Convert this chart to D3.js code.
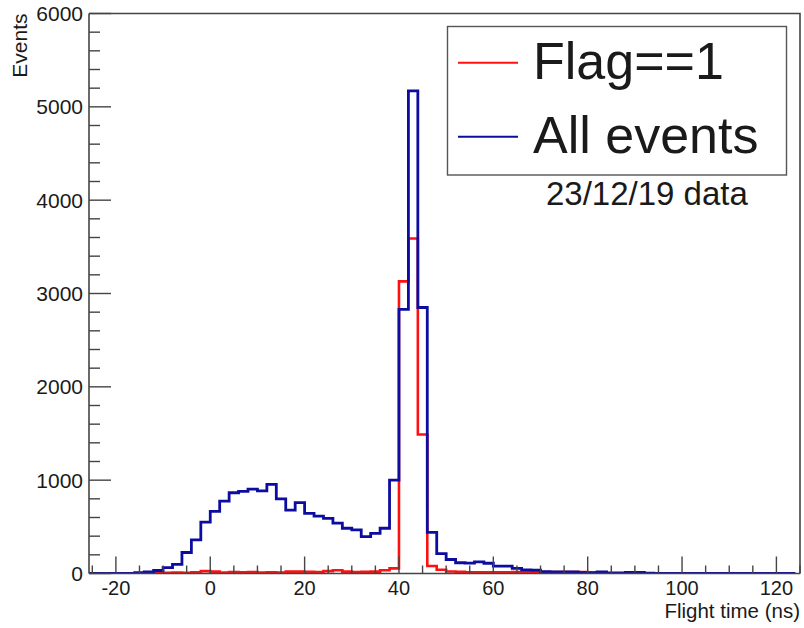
<!DOCTYPE html>
<html>
<head>
<meta charset="utf-8">
<script src="https://cdn.jsdelivr.net/npm/d3@7"></script>
<style>
  html, body { margin: 0; padding: 0; background: #fff; }
  svg { display: block; }
  text { font-family: "Liberation Sans", Arial, Helvetica, sans-serif; fill: #1a1a1a; }
</style>
</head>
<body>
<svg id="chart" width="804" height="628"></svg>
<script>
// Histogram binning: 2 ns bins, low edges from -26 ns up to 124 ns
const binWidth = 2;
const binLowEdges = d3.range(-26, 126, binWidth);

// All events (counts per bin, in order of binLowEdges)
const allEvents = [
  0, 0, 0, 0, 0,            // -26 .. -18
  8, 18, 32, 62, 98,        // -16 .. -8
  225, 360, 550, 665, 775,  // -6 .. 2
  865, 880, 905, 885, 955,  // 4 .. 12
  800, 680, 760, 645, 615,  // 14 .. 22
  590, 540, 485, 468, 395,  // 24 .. 32
  430, 485, 1000, 2830, 5170, // 34 .. 42
  2850, 440, 214, 150, 115, // 44 .. 52
  112, 125, 110, 80, 78,    // 54 .. 62
  55, 38, 36, 20, 18,       // 64 .. 72
  18, 16, 8, 7, 18,         // 74 .. 82
  7, 6, 12, 12, 4,          // 84 .. 92
  0, 0, 0, 0, 0,            // 94 .. 102
  0, 0, 0, 0, 0,            // 104 .. 112
  0, 0, 0, 0, 0             // 114 .. 122
];

// Events with Flag==1
const flagEvents = [
  0, 0, 0, 0, 0,
  0, 0, 3, 8, 10,
  8, 12, 25, 20, 10,
  15, 12, 15, 10, 12,
  10, 20, 20, 18, 15,
  25, 35, 20, 15, 18,
  20, 35, 55, 3130, 3590,
  1490, 80, 40, 22, 18,
  12, 12, 12, 12, 12,
  15, 15, 15, 15, 15,
  15, 15, 15, 12, 12,
  0, 0, 0, 0, 0,
  0, 0, 0, 0, 0,
  0, 0, 0, 0, 0,
  0, 0, 0, 0, 0
];

const xTickValues = [-20, 0, 20, 40, 60, 80, 100, 120];
const yTickValues = [0, 1000, 2000, 3000, 4000, 5000, 6000];
const xDomain = [-25.7, 125];
const yDomain = [0, 6000];

const legendLabels = ["Flag==1", "All events"];
const seriesColors = ["#ff1010", "#0c0ca0"];
const xTitle = "Flight time (ns)";
const yTitle = "Events";
const note = "23/12/19 data";

const svg = d3.select("#chart");
const frame = { left: 89, right: 800, top: 13.5, bottom: 573.5 };

const x = d3.scaleLinear().domain(xDomain).range([frame.left, frame.right]);
const y = d3.scaleLinear().domain(yDomain).range([frame.bottom, frame.top]);

const axisColor = "#444";

// clip region for the histograms
svg.append("defs").append("clipPath").attr("id", "plotClip")
  .append("rect")
  .attr("x", frame.left).attr("y", frame.top - 2)
  .attr("width", frame.right - frame.left).attr("height", frame.bottom - frame.top + 2);

// step outline of a histogram
function stepPath(counts) {
  const pts = [];
  pts.push([binLowEdges[0], 0]);
  counts.forEach((c, i) => {
    pts.push([binLowEdges[i], c]);
    pts.push([binLowEdges[i] + binWidth, c]);
  });
  pts.push([binLowEdges[counts.length - 1] + binWidth, 0]);
  return d3.line().x(d => x(d[0])).y(d => y(d[1]))(pts);
}

const plot = svg.append("g").attr("clip-path", "url(#plotClip)");
plot.append("path")
  .attr("d", stepPath(flagEvents))
  .attr("fill", "none")
  .attr("stroke", seriesColors[0])
  .attr("stroke-width", 2.6)
  .attr("stroke-linejoin", "miter");
plot.append("path")
  .attr("d", stepPath(allEvents))
  .attr("fill", "none")
  .attr("stroke", seriesColors[1])
  .attr("stroke-width", 2.8)
  .attr("stroke-linejoin", "miter");

// frame (top and right sides)
svg.append("path")
  .attr("d", `M${frame.left},${frame.top}H${frame.right}V${frame.bottom}`)
  .attr("fill", "none").attr("stroke", axisColor).attr("stroke-width", 1.6);

// y axis
const yAxisG = svg.append("g").attr("transform", `translate(${frame.left},0)`);
yAxisG.append("line")
  .attr("x1", 0).attr("x2", 0).attr("y1", frame.top).attr("y2", frame.bottom)
  .attr("stroke", axisColor).attr("stroke-width", 1.6);
const yMinor = d3.range(0, 6000 + 1, 200);
yAxisG.selectAll(".ytick").data(yMinor).join("line")
  .attr("x1", 0)
  .attr("x2", d => (d % 1000 === 0 ? 22 : 11))
  .attr("y1", d => y(d)).attr("y2", d => y(d))
  .attr("stroke", axisColor).attr("stroke-width", 1.4);
yAxisG.selectAll(".ylab").data(yTickValues).join("text")
  .attr("x", -6).attr("y", d => y(d))
  .attr("dy", "0.36em")
  .attr("text-anchor", "end")
  .attr("font-size", 21)
  .text(d => d);

// x axis
const xAxisG = svg.append("g").attr("transform", `translate(0,${frame.bottom})`);
xAxisG.append("line")
  .attr("x1", frame.left).attr("x2", frame.right).attr("y1", 0).attr("y2", 0)
  .attr("stroke", axisColor).attr("stroke-width", 1.6);
const xMinor = d3.range(-25, 126, 5);
xAxisG.selectAll(".xtick").data(xMinor).join("line")
  .attr("x1", d => x(d)).attr("x2", d => x(d))
  .attr("y1", 0).attr("y2", d => (d % 20 === 0 ? -17 : -8))
  .attr("stroke", axisColor).attr("stroke-width", 1.4);
xAxisG.selectAll(".xlab").data(xTickValues).join("text")
  .attr("x", d => x(d)).attr("y", 21)
  .attr("text-anchor", "middle")
  .attr("font-size", 20)
  .text(d => d);

// axis titles
svg.append("text")
  .attr("x", frame.right).attr("y", 618)
  .attr("text-anchor", "end")
  .attr("font-size", 20.5)
  .text(xTitle);
svg.append("text")
  .attr("transform", `translate(27,${frame.top}) rotate(-90)`)
  .attr("text-anchor", "end")
  .attr("font-size", 21)
  .text(yTitle);

// legend
const leg = svg.append("g");
leg.append("rect")
  .attr("x", 447.5).attr("y", 26.5).attr("width", 339).attr("height", 148.5)
  .attr("fill", "#fff").attr("stroke", "#555").attr("stroke-width", 1.4);
const legRows = [62.7, 136.7];
legendLabels.forEach((lab, i) => {
  leg.append("line")
    .attr("x1", 458).attr("x2", 518)
    .attr("y1", legRows[i]).attr("y2", legRows[i])
    .attr("stroke", seriesColors[i]).attr("stroke-width", 2);
  leg.append("text")
    .attr("x", 533).attr("y", legRows[i] + 16)
    .attr("font-size", 52)
    .text(lab);
});

// data note
svg.append("text")
  .attr("x", 546).attr("y", 205)
  .attr("font-size", 33)
  .text(note);
</script>
</body>
</html>
